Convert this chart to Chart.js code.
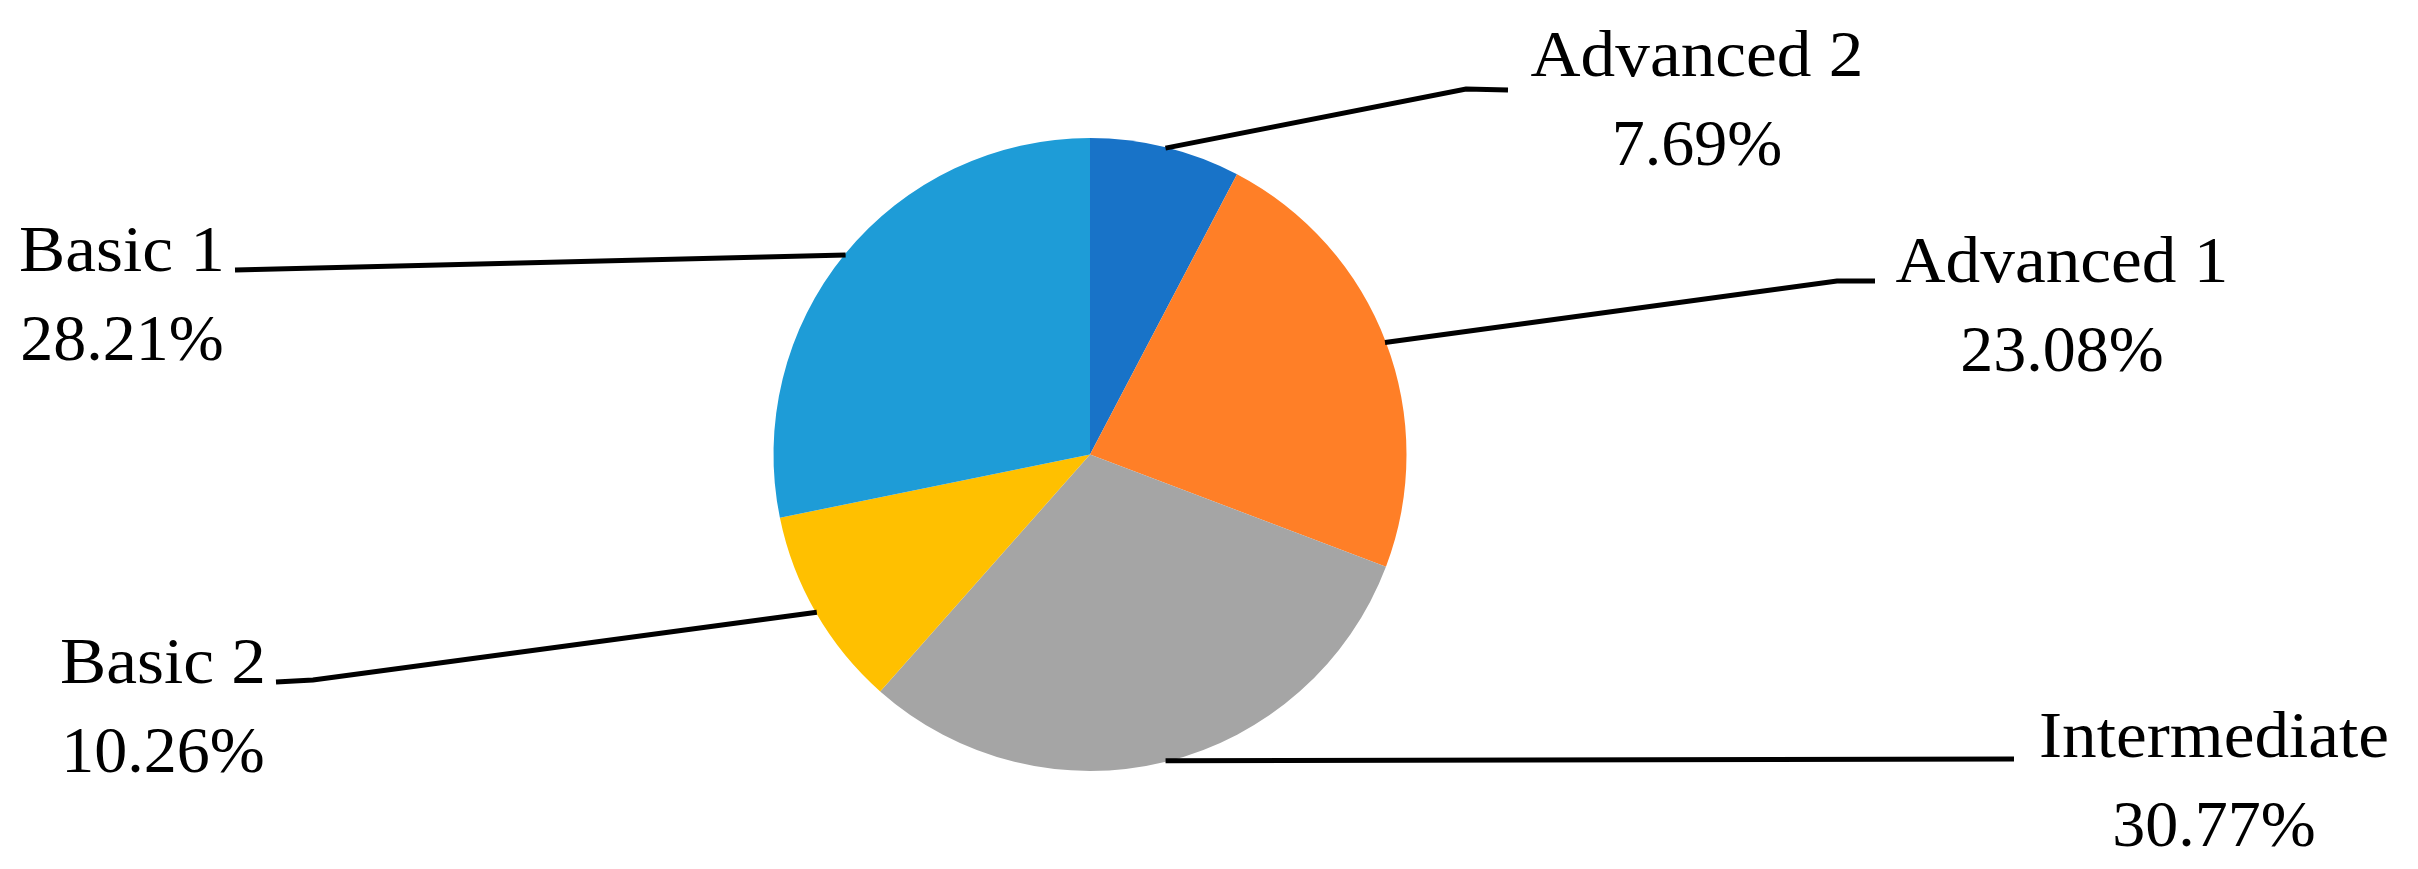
<!DOCTYPE html>
<html>
<head>
<meta charset="utf-8">
<script src="https://cdn.jsdelivr.net/npm/chart.js@4.4.1/dist/chart.umd.min.js"></script>
<style>
html,body{margin:0;padding:0;background:#fff;}
#c{display:block;}
</style>
</head>
<body>
<canvas id="c" width="2418" height="869"></canvas>
<script>
// ---- data ----
const categories = ["Advanced 2", "Advanced 1", "Intermediate", "Basic 2", "Basic 1"];
const shares = [7.69, 23.08, 30.77, 10.26, 28.21];
const sliceColors = ["#1873C8", "#FF7F27", "#A5A5A5", "#FFC000", "#1E9CD7"];

// ---- label layout (text centre x, first baseline y, leader bend and end points) ----
const labelLayout = [
  {cx: 1697, by: 76,  path: [[1466, 89], [1508, 90]]},
  {cx: 2062, by: 282, path: [[1837, 281], [1875, 281]]},
  {cx: 2214, by: 757, path: [[2014, 759]]},
  {cx: 163,  by: 683, path: [[313, 680], [276, 682]]},
  {cx: 122,  by: 271, path: [[235, 270]]}
];
const lineGap = 89;
const labelFont = "66px 'Liberation Serif', 'Times New Roman', serif";
const nameStretch = 1.05;

const leaderPlugin = {
  id: 'leaders',
  afterDatasetsDraw(chart) {
    const ctx = chart.ctx;
    const meta = chart.getDatasetMeta(0);
    ctx.save();
    meta.data.forEach((arc, i) => {
      const p = arc.getProps(['x', 'y', 'startAngle', 'endAngle', 'outerRadius'], true);
      const mid = (p.startAngle + p.endAngle) / 2;
      const sx = p.x + (p.outerRadius - 1) * Math.cos(mid);
      const sy = p.y + (p.outerRadius - 1) * Math.sin(mid);
      const L = labelLayout[i];
      ctx.beginPath();
      ctx.moveTo(sx, sy);
      L.path.forEach(pt => ctx.lineTo(pt[0], pt[1]));
      ctx.strokeStyle = '#000';
      ctx.lineWidth = 5;
      ctx.lineJoin = 'miter';
      ctx.stroke();
      ctx.fillStyle = '#000';
      ctx.font = labelFont;
      ctx.textAlign = 'center';
      ctx.textBaseline = 'alphabetic';
      const val = chart.data.datasets[0].data[i];
      ctx.save();
      ctx.translate(L.cx, L.by);
      ctx.scale(nameStretch, 1);
      ctx.fillText(chart.data.labels[i], 0, 0);
      ctx.restore();
      ctx.fillText(val.toFixed(2) + '%', L.cx, L.by + lineGap);
    });
    ctx.restore();
  }
};

new Chart(document.getElementById('c'), {
  type: 'pie',
  data: {
    labels: categories,
    datasets: [{
      data: shares,
      backgroundColor: sliceColors,
      borderWidth: 0
    }]
  },
  options: {
    responsive: false,
    animation: false,
    layout: {padding: {top: 138, bottom: 98, left: 773.5, right: 1011.5}},
    plugins: {legend: {display: false}, tooltip: {enabled: false}}
  },
  plugins: [leaderPlugin]
});
</script>
</body>
</html>
